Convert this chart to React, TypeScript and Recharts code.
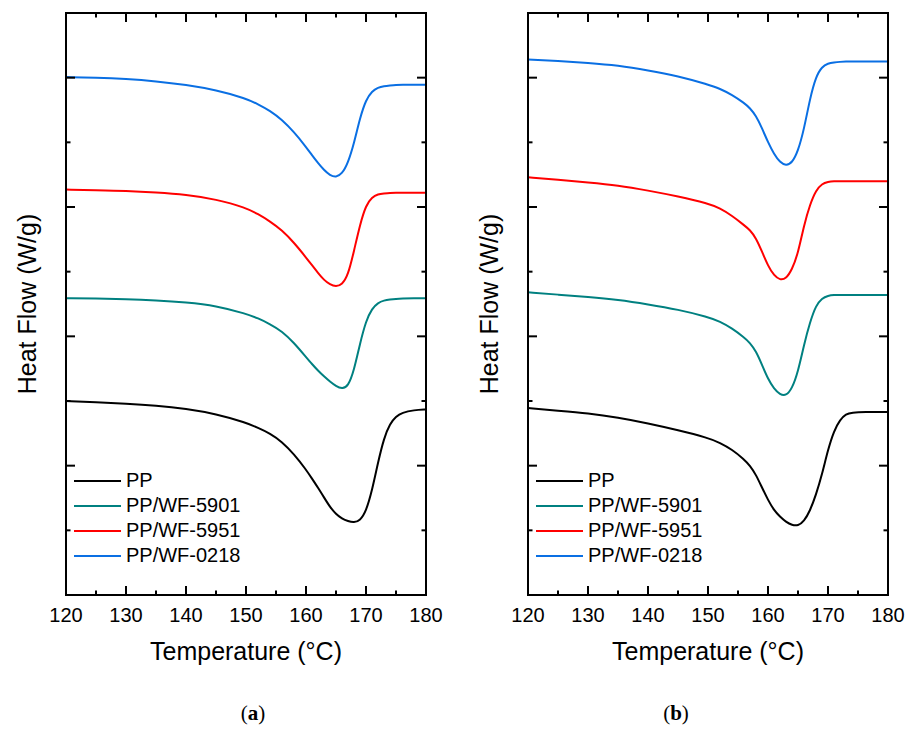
import { Legend, Line, LineChart, XAxis, YAxis } from "recharts";

const seriesNames = ["PP", "PP/WF-5901", "PP/WF-5951", "PP/WF-0218"];
const seriesColors = ["#000000", "#008080", "#ff0000", "#0a6fe3"];

// panel (a)
const tempsA = [120, 125, 130, 135, 140, 145, 150, 152, 154, 156, 158, 160, 161, 162, 163, 164, 165, 166, 167, 168, 169, 170, 171, 172, 173, 174, 175, 176, 178, 180];
const ppA = [3.0, 2.98, 2.96, 2.93, 2.88, 2.8, 2.665, 2.585, 2.5, 2.37, 2.18, 1.94, 1.8, 1.66, 1.51, 1.36, 1.25, 1.18, 1.14, 1.12, 1.15, 1.29, 1.61, 2.05, 2.43, 2.65, 2.76, 2.82, 2.86, 2.87];
const wf5901A = [4.59, 4.585, 4.575, 4.555, 4.525, 4.475, 4.35, 4.28, 4.19, 4.08, 3.9, 3.68, 3.57, 3.47, 3.38, 3.3, 3.23, 3.19, 3.22, 3.47, 3.89, 4.24, 4.43, 4.52, 4.555, 4.57, 4.58, 4.585, 4.59, 4.59];
const wf5951A = [6.27, 6.26, 6.25, 6.225, 6.19, 6.12, 5.99, 5.89, 5.78, 5.64, 5.45, 5.22, 5.1, 4.98, 4.87, 4.8, 4.77, 4.8, 4.94, 5.32, 5.73, 6.03, 6.15, 6.2, 6.21, 6.22, 6.22, 6.22, 6.22, 6.22];
const wf0218A = [8.01, 8.0, 7.98, 7.945, 7.89, 7.81, 7.68, 7.59, 7.49, 7.35, 7.16, 6.93, 6.8, 6.68, 6.57, 6.49, 6.46, 6.51, 6.68, 6.98, 7.38, 7.66, 7.79, 7.85, 7.87, 7.88, 7.89, 7.89, 7.89, 7.89];

// panel (b)
const tempsB = [120, 125, 130, 135, 140, 145, 150, 152, 154, 156, 157, 158, 159, 160, 161, 162, 163, 164, 165, 166, 167, 168, 169, 170, 171, 172, 173, 174, 176, 180];
const ppB = [2.89, 2.85, 2.81, 2.745, 2.655, 2.55, 2.43, 2.355, 2.25, 2.1, 2.0, 1.86, 1.66, 1.47, 1.31, 1.21, 1.13, 1.08, 1.07, 1.14, 1.3, 1.55, 1.86, 2.25, 2.54, 2.71, 2.8, 2.82, 2.83, 2.83];
const wf5901B = [4.68, 4.645, 4.61, 4.565, 4.495, 4.415, 4.3, 4.23, 4.125, 3.985, 3.9, 3.77, 3.56, 3.34, 3.19, 3.1, 3.08, 3.19, 3.45, 3.87, 4.22, 4.48, 4.59, 4.63, 4.64, 4.64, 4.64, 4.64, 4.64, 4.64];
const wf5951B = [6.46, 6.42, 6.38, 6.335, 6.255, 6.165, 6.055, 5.98, 5.865, 5.72, 5.645, 5.52, 5.31, 5.09, 4.94, 4.87, 4.89, 5.03, 5.28, 5.72, 6.04, 6.26, 6.36, 6.39, 6.4, 6.4, 6.4, 6.4, 6.4, 6.4];
const wf0218B = [8.28, 8.26, 8.23, 8.19, 8.115, 8.025, 7.895, 7.83, 7.735, 7.61, 7.53, 7.41, 7.22, 7.0, 6.82, 6.69, 6.64, 6.68, 6.86, 7.2, 7.68, 8.02, 8.17, 8.22, 8.235, 8.245, 8.25, 8.25, 8.25, 8.25];

const xTicks = [120, 125, 130, 135, 140, 145, 150, 155, 160, 165, 170, 175, 180];
const yTicks = [0, 1, 2, 3, 4, 5, 6, 7, 8, 9];

const FONT = '"Liberation Sans", Arial, sans-serif';
const frame = { stroke: "#000", strokeWidth: 2, strokeLinecap: "square" as const };

const rows = (temps: number[], values: number[]) => temps.map((t, i) => ({ t, v: values[i] }));

function BottomTick({ x, y, payload }: any) {
  const major = payload.value % 10 === 0;
  return (
    <g>
      <line x1={x} x2={x} y1={y} y2={y - (major ? 9 : 4.5)} stroke="#000" strokeWidth={2} />
      {major && (
        <text x={x} y={y + 27} textAnchor="middle" fontSize={20} fontFamily={FONT} fill="#000">
          {payload.value}
        </text>
      )}
    </g>
  );
}

function TopTick({ x, y, payload }: any) {
  const major = payload.value % 10 === 0;
  return <line x1={x} x2={x} y1={y} y2={y + (major ? 9 : 4.5)} stroke="#000" strokeWidth={2} />;
}

function LeftTick({ x, y, payload }: any) {
  const major = payload.value % 2 === 0;
  return <line x1={x} x2={x + (major ? 9 : 4.5)} y1={y} y2={y} stroke="#000" strokeWidth={2} />;
}

function RightTick({ x, y, payload }: any) {
  const major = payload.value % 2 === 0;
  return <line x1={x} x2={x - (major ? 9 : 4.5)} y1={y} y2={y} stroke="#000" strokeWidth={2} />;
}

function LegendBox() {
  return (
    <div style={{ fontFamily: FONT, fontSize: 20, color: "#000" }}>
      {seriesNames.map((name, i) => (
        <div key={name} style={{ display: "flex", alignItems: "center", height: 25 }}>
          <svg width={47} height={4} style={{ display: "block" }}>
            <line x1={0} x2={47} y1={2} y2={2} stroke={seriesColors[i]} strokeWidth={2} />
          </svg>
          <span style={{ marginLeft: 5, lineHeight: "25px", whiteSpace: "nowrap" }}>{name}</span>
        </div>
      ))}
    </div>
  );
}

function Panel({ temps, series, left, width }: { temps: number[]; series: number[][]; left: number; width: number }) {
  return (
    <div style={{ position: "absolute", left, top: 0 }}>
      <LineChart width={width} height={680} margin={{ top: 0, right: 0, bottom: 15, left: 0 }}>
        <XAxis
          xAxisId="b"
          type="number"
          dataKey="t"
          domain={[120, 180]}
          allowDataOverflow
          ticks={xTicks}
          interval={0}
          height={70}
          tickSize={0}
          tickMargin={0}
          tickLine={false}
          axisLine={frame}
          tick={BottomTick}
          label={{ value: "Temperature (°C)", position: "insideBottom", offset: 5, style: { fontSize: 25, fontFamily: FONT, fill: "#000" } }}
        />
        <XAxis
          xAxisId="top"
          orientation="top"
          type="number"
          dataKey="t"
          domain={[120, 180]}
          allowDataOverflow
          ticks={xTicks}
          interval={0}
          height={13}
          tickSize={0}
          tickMargin={0}
          tickLine={false}
          axisLine={frame}
          tick={TopTick}
        />
        <YAxis
          yAxisId="l"
          type="number"
          domain={[0, 9]}
          allowDataOverflow
          ticks={yTicks}
          interval={0}
          width={66}
          tickSize={0}
          tickMargin={0}
          tickLine={false}
          axisLine={frame}
          tick={LeftTick}
          label={{
            value: "Heat Flow (W/g)",
            angle: -90,
            position: "insideLeft",
            offset: 27,
            style: { textAnchor: "middle", fontSize: 25, fontFamily: FONT, fill: "#000" },
          }}
        />
        <YAxis
          yAxisId="r"
          orientation="right"
          type="number"
          domain={[0, 9]}
          allowDataOverflow
          ticks={yTicks}
          interval={0}
          width={width - 426}
          tickSize={0}
          tickMargin={0}
          tickLine={false}
          axisLine={frame}
          tick={RightTick}
        />
        <Legend
          layout="vertical"
          align="center"
          verticalAlign="middle"
          wrapperStyle={{ left: 74, top: 468, width: "auto" }}
          content={LegendBox}
        />
        {series.map((values, i) => (
          <Line
            key={seriesNames[i]}
            xAxisId="b"
            yAxisId="l"
            data={rows(temps, values)}
            dataKey="v"
            name={seriesNames[i]}
            type="basis"
            stroke={seriesColors[i]}
            strokeWidth={2}
            dot={false}
            activeDot={false}
            isAnimationActive={false}
          />
        ))}
      </LineChart>
    </div>
  );
}

const captionStyle = {
  position: "absolute" as const,
  top: 703,
  width: 60,
  textAlign: "center" as const,
  fontFamily: '"Liberation Serif", "Times New Roman", serif',
  fontSize: 21,
  lineHeight: 1,
  color: "#000",
};

export default function App() {
  return (
    <div style={{ position: "absolute", left: 0, top: 0, width: 907, height: 729, background: "#fff", overflow: "hidden" }}>
      <Panel temps={tempsA} series={[ppA, wf5901A, wf5951A, wf0218A]} left={0} width={460} />
      <Panel temps={tempsB} series={[ppB, wf5901B, wf5951B, wf0218B]} left={462} width={445} />
      <div style={{ ...captionStyle, left: 223 }}>
        (<b>a</b>)
      </div>
      <div style={{ ...captionStyle, left: 646 }}>
        (<b>b</b>)
      </div>
    </div>
  );
}
